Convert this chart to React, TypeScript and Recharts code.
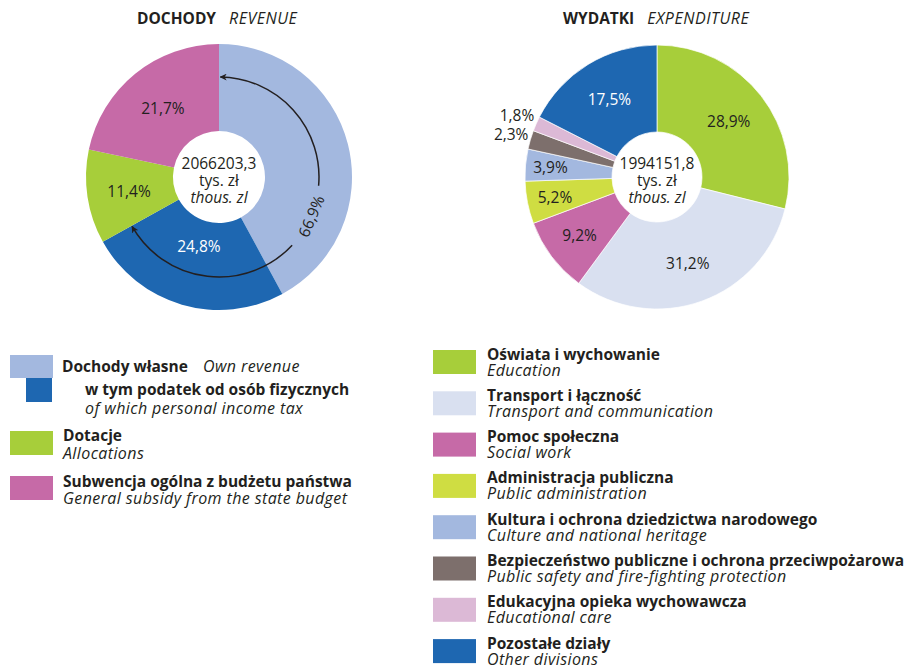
import { PieChart, Pie, Cell } from 'recharts'

const FONT = '"Open Sans", "Noto Sans", sans-serif'
const INK = '#231f20'

// Dochody / Revenue
const revenueNames = ['Dochody własne (pozostałe)', 'w tym podatek od osób fizycznych', 'Dotacje', 'Subwencja ogólna z budżetu państwa']
const revenueValues = [42.1, 24.8, 11.4, 21.7]
const revenueColors = ['#a3b8df', '#1e67b1', '#a7ce3a', '#c66aa7']
const ownRevenueShare = 66.9
const revenueTotal = '2066203,3'

// Wydatki / Expenditure
const expenditurePl = [
  'Oświata i wychowanie',
  'Transport i łączność',
  'Pomoc społeczna',
  'Administracja publiczna',
  'Kultura i ochrona dziedzictwa narodowego',
  'Bezpieczeństwo publiczne i ochrona przeciwpożarowa',
  'Edukacyjna opieka wychowawcza',
  'Pozostałe działy',
]
const expenditureEn = [
  'Education',
  'Transport and communication',
  'Social work',
  'Public administration',
  'Culture and national heritage',
  'Public safety and fire-fighting protection',
  'Educational care',
  'Other divisions',
]
const expenditureValues = [28.9, 31.2, 9.2, 5.2, 3.9, 2.3, 1.8, 17.5]
const expenditureColors = ['#a7ce3a', '#d9e0f0', '#c66aa7', '#cfdd42', '#a3b8df', '#7d6f6c', '#dcb9d6', '#1e67b1']
const expenditureTotal = '1994151,8'

const revenueData = revenueNames.map((name, i) => ({ name, value: revenueValues[i] }))
const expenditureData = expenditurePl.map((name, i) => ({ name, value: expenditureValues[i] }))

const RAD = Math.PI / 180
const fmt = (v: number) => v.toFixed(1).replace('.', ',') + '%'

const makeLabel = (radii: Record<number, number>, white: number[], skip: number[]) => (props: any) => {
  const { cx, cy, midAngle, index, value } = props
  if (skip.includes(index)) return null
  const r = radii[index] ?? 91
  const x = cx + r * Math.cos(-midAngle * RAD)
  const y = cy + r * Math.sin(-midAngle * RAD)
  return (
    <text x={x} y={y} textAnchor="middle" dominantBaseline="central" fill={white.includes(index) ? '#fff' : INK} fontSize={15.5} fontFamily={FONT}>
      {fmt(value)}
    </text>
  )
}

const L_CX = 219
const R_CX = 657
const CY = 177

// point on circle, angle measured clockwise from top
const pt = (cx: number, cy: number, r: number, deg: number) => [cx + r * Math.sin(deg * RAD), cy - r * Math.cos(deg * RAD)]

function Arrow() {
  const r = 100
  const end = ownRevenueShare * 3.6 - 0.5
  const [ax, ay] = pt(L_CX, CY, r, 133)
  const [bx, by] = pt(L_CX, CY, r, end)
  const [cx1, cy1] = pt(L_CX, CY, r, 95)
  const [dx, dy] = pt(L_CX, CY, r, 0.8)
  const [tx, ty] = pt(L_CX, CY, r, 113)
  return (
    <g>
      <defs>
        <marker id="ah" viewBox="0 0 10 10" refX="9" refY="5" markerWidth="7" markerHeight="7" orient="auto" markerUnits="userSpaceOnUse">
          <path d="M0,0 L10,5 L0,10 L3,5 Z" fill={INK} />
        </marker>
      </defs>
      <path d={`M${ax},${ay} A${r},${r} 0 0 1 ${bx},${by}`} fill="none" stroke={INK} strokeWidth={1.5} markerEnd="url(#ah)" />
      <path d={`M${cx1},${cy1} A${r},${r} 0 0 0 ${dx},${dy}`} fill="none" stroke={INK} strokeWidth={1.5} markerEnd="url(#ah)" />
      <text x={tx} y={ty} transform={`rotate(-67 ${tx} ${ty})`} textAnchor="middle" dominantBaseline="central" fill={INK} fontSize={15.5} fontFamily={FONT}>
        {fmt(ownRevenueShare)}
      </text>
    </g>
  )
}

function CenterText({ x, total }: { x: number; total: string }) {
  const t = { x, textAnchor: 'middle' as const, fill: INK, fontSize: 15.5, fontFamily: FONT }
  return (
    <g>
      <text {...t} y={169}>{total}</text>
      <text {...t} y={186}>tys. zł</text>
      <text {...t} y={203} fontStyle="italic">thous. zl</text>
    </g>
  )
}

function Title({ x, bold, italic, gap }: { x: number; bold: string; italic: string; gap: number }) {
  return (
    <text x={x} y={24} fill={INK} fontSize={15.5} fontFamily={FONT}>
      <tspan fontWeight="bold">{bold}</tspan>
      <tspan dx={gap} fontStyle="italic" fontSize={16} letterSpacing={0.5}>{italic}</tspan>
    </text>
  )
}

function Legends() {
  const b = { fill: INK, fontSize: 15.5, fontFamily: FONT, fontWeight: 'bold' }
  const it = { fill: INK, fontSize: 16, fontFamily: FONT, fontStyle: 'italic', letterSpacing: 0.4 }
  return (
    <g>
      {/* left legend */}
      <rect x={10} y={355} width={43} height={23} fill={revenueColors[0]} />
      <rect x={26} y={378} width={26} height={24} fill={revenueColors[1]} />
      <text x={62} y={372} {...b}>Dochody własne</text>
      <text x={203} y={372} {...it}>Own revenue</text>
      <text x={85} y={395} {...b}>{revenueNames[1]}</text>
      <text x={85} y={414} {...it}>of which personal income tax</text>
      <rect x={10} y={431} width={43} height={24} fill={revenueColors[2]} />
      <text x={63} y={441} {...b}>{revenueNames[2]}</text>
      <text x={63} y={459} {...it}>Allocations</text>
      <rect x={10} y={476} width={43} height={24} fill={revenueColors[3]} />
      <text x={63} y={487} {...b}>{revenueNames[3]}</text>
      <text x={63} y={504} {...it}>General subsidy from the state budget</text>

      {/* right legend */}
      {expenditurePl.map((pl, i) => {
        const top = 350 + i * 41.3
        return (
          <g key={pl}>
            <rect x={433} y={top} width={43} height={24} fill={expenditureColors[i]} />
            <text x={487} y={top + 9.5} {...b}>{pl}</text>
            <text x={487} y={top + 25.5} {...it}>{expenditureEn[i]}</text>
          </g>
        )
      })}
    </g>
  )
}

export default function App() {
  return (
    <div style={{ position: 'absolute', left: 0, top: 0, width: 907, height: 667, background: '#fff' }}>
      <PieChart width={907} height={330} margin={{ top: 0, right: 0, bottom: 0, left: 0 }} style={{ position: 'absolute', left: 0, top: 0 }}>
        <Pie
          data={revenueData}
          dataKey="value"
          cx={L_CX}
          cy={CY}
          innerRadius={46}
          outerRadius={133}
          startAngle={90}
          endAngle={-270}
          stroke="none"
          labelLine={false}
          label={makeLabel({ 1: 72, 2: 91, 3: 89 }, [1], [0])}
          isAnimationActive={false}
        >
          {revenueData.map((d, i) => (
            <Cell key={d.name} fill={revenueColors[i]} />
          ))}
        </Pie>
        <Pie
          data={expenditureData}
          dataKey="value"
          cx={R_CX}
          cy={CY}
          innerRadius={45}
          outerRadius={132}
          startAngle={90}
          endAngle={-270}
          stroke="#fff"
          strokeWidth={0.7}
          labelLine={false}
          label={makeLabel({ 2: 97, 3: 104, 4: 107, 5: 152, 6: 153 }, [7], [])}
          isAnimationActive={false}
        >
          {expenditureData.map((d, i) => (
            <Cell key={d.name} fill={expenditureColors[i]} />
          ))}
        </Pie>
      </PieChart>
      <svg width={907} height={667} style={{ position: 'absolute', left: 0, top: 0, pointerEvents: 'none' }}>
        <Title x={137} bold="DOCHODY" italic="REVENUE" gap={13} />
        <Title x={563} bold="WYDATKI" italic="EXPENDITURE" gap={13} />
        <CenterText x={L_CX} total={revenueTotal} />
        <CenterText x={R_CX} total={expenditureTotal} />
        <Arrow />
        <Legends />
      </svg>
    </div>
  )
}
